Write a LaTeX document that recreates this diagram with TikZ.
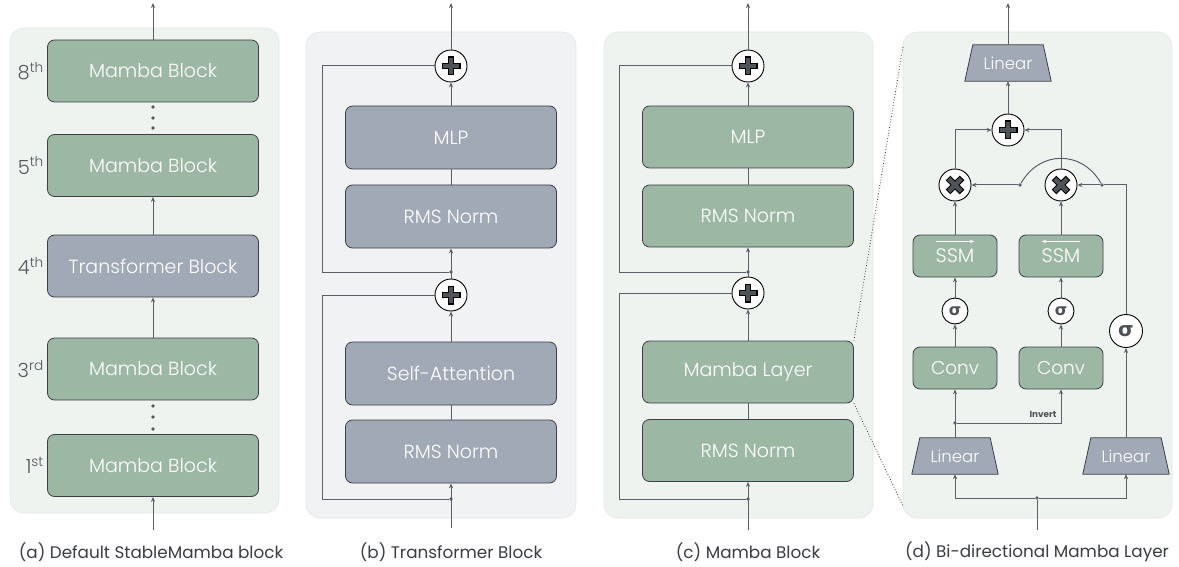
\documentclass[tikz,border=0pt]{standalone}
\usepackage{fontspec}
\setmainfont{Poppins}
\newfontfamily\lightfont{Poppins}[UprightFont=* Light]
\newfontfamily\symfont{DejaVu Sans}
\usetikzlibrary{arrows.meta,shapes.geometric,calc}

\definecolor{mgreen}{HTML}{9CB8A4}
\definecolor{tgray}{HTML}{A1A9B7}
\definecolor{bordc}{HTML}{3C4044}
\definecolor{lcol}{HTML}{5B6068}
\definecolor{greenbg}{HTML}{EFF3F0}
\definecolor{graybg}{HTML}{F1F2F4}
\definecolor{panelline}{HTML}{E2E5E3}
\definecolor{glyphc}{HTML}{4F5358}
\definecolor{captc}{HTML}{3A3D42}
\definecolor{ordc}{HTML}{54585E}

\pgfdeclarelayer{back}
\pgfdeclarelayer{mid}
\pgfsetlayers{back,mid,main}

\tikzset{
  panel/.style={draw=panelline, line width=0.6pt, rounded corners=14pt},
  blk/.style={rectangle, rounded corners=7pt, draw=bordc, line width=0.8pt,
    text=white, minimum width=211pt, minimum height=62pt, inner sep=0pt,
    font=\lightfont\fontsize{19}{22}\selectfont},
  gblk/.style={blk, fill=mgreen},
  tblk/.style={blk, fill=tgray},
  sblk/.style={gblk, minimum width=84pt, minimum height=42pt,
    font=\lightfont\fontsize{18.5}{20}\selectfont},
  ssmblk/.style={sblk, font=\lightfont\fontsize{19.5}{22}\selectfont},
  linbox/.style={rectangle, text=white, inner sep=0pt,
    minimum width=86pt, minimum height=36pt, font=\lightfont\fontsize{16.5}{18}\selectfont},
  trapline/.style={draw=bordc, line width=0.8pt, fill=tgray, line join=round},
  opc/.style={circle, draw=black, line width=0.9pt, fill=white,
    minimum size=32pt, inner sep=0pt},
  sigc/.style={opc, minimum size=26pt, text=glyphc,
    font=\symfont\bfseries\fontsize{16}{17}\selectfont},
  bigsig/.style={sigc, minimum size=33pt, font=\symfont\bfseries\fontsize{20}{21}\selectfont},
  ln/.style={draw=lcol, line width=1pt},
  ar/.style={ln, -{Stealth[length=5pt,width=4.2pt]}},
  jdot/.style={circle, fill=lcol, inner sep=0pt, minimum size=3.6pt},
  edot/.style={circle, fill=ordc, inner sep=0pt, minimum size=3.6pt},
  ordl/.style={anchor=east, text=ordc, font=\lightfont\fontsize{19.5}{22}\selectfont, inner sep=0pt},
  capt/.style={text=captc, font=\fontsize{16.8}{20}\selectfont, inner sep=0pt},
  plusglyph/.pic={
    \draw[black, line width=6.6pt] (-9.5,0) -- (9.5,0) (0,-9.5) -- (0,9.5);
    \draw[glyphc, line width=4.4pt] (-8.4,0) -- (8.4,0) (0,-8.4) -- (0,8.4);
  },
  timesglyph/.pic={
    \draw[black, line width=6.6pt] (-7,-7) -- (7,7) (-7,7) -- (7,-7);
    \draw[glyphc, line width=4.4pt] (-6.2,-6.2) -- (6.2,6.2) (-6.2,6.2) -- (6.2,-6.2);
  }
}

% trapezoid outline (narrow top, wide bottom) behind a Linear node
\newcommand\trapfill[1]{%
  \begin{pgfonlayer}{mid}
    \draw[trapline] (#1.south west) -- ($(#1.north west)+(8,0)$)
      -- ($(#1.north east)+(-8,0)$) -- (#1.south east) -- cycle;
  \end{pgfonlayer}}

\begin{document}
\begin{tikzpicture}[x=1pt,y=-1pt]
\useasboundingbox (0,0) rectangle (1179,567);

% panel backgrounds
\begin{pgfonlayer}{back}
\draw[panel, fill=greenbg] (10,28) rectangle (279,513);
\draw[panel, fill=graybg] (306,32) rectangle (576,518);
\draw[panel, fill=greenbg] (604,32) rectangle (873,518);
\draw[panel, fill=greenbg] (903,32) rectangle (1172,518);
\end{pgfonlayer}

% ---------------- (a) default stack ----------------
\node[gblk] (a8) at (153,71) {Mamba Block};
\node[gblk] (a5) at (153,165.5) {Mamba Block};
\node[tblk] (a4) at (153,266) {Transformer Block};
\node[gblk] (a3) at (153,369) {Mamba Block};
\node[gblk] (a1) at (153,465.5) {Mamba Block};
\node[ordl] (o8) at (44,71) {8\textsuperscript{th}};
\node[ordl] (o5) at (44,165.5) {5\textsuperscript{th}};
\node[ordl] (o4) at (44,266) {4\textsuperscript{th}};
\node[ordl] (o3) at (44,369) {3\textsuperscript{rd}};
\node[ordl] (o1) at (44,465.5) {1\textsuperscript{st}};
\foreach \y [count=\i] in {107,118,128} \node[edot] (ua\i) at (153,\y) {};
\foreach \y [count=\i] in {406,417,429} \node[edot] (la\i) at (153,\y) {};
\coordinate (aout) at (153,3);
\coordinate (ain) at (153,530);
\draw[ar] (a8.north) -- (aout);
\draw[ar] (a4.north) -- (a5.south);
\draw[ar] (a3.north) -- (a4.south);
\draw[ar] (ain) -- (a1.south);
\node[capt] (capa) at (151,552) {(a) Default StableMamba block};

% ---------------- (b) transformer block ----------------
\node[opc] (bplus1) at (451,66) {};
\pic at (bplus1.center) {plusglyph};
\node[tblk, minimum height=63pt] (bmlp) at (451,137.5) {MLP};
\node[tblk, minimum height=63pt] (brms1) at (451,216.5) {RMS Norm};
\node[opc] (bplus2) at (451,295) {};
\pic at (bplus2.center) {plusglyph};
\node[tblk, minimum height=63pt] (bsa) at (451,373.5) {Self-Attention};
\node[tblk, minimum height=63pt] (brms2) at (451,451.5) {RMS Norm};
\node[jdot] (bj1) at (451,272) {};
\node[jdot] (bj2) at (451,499) {};
\coordinate (bskip) at (322,0);
\coordinate (bout) at (451,3);
\coordinate (bin) at (451,528);
\draw[ar] (bplus1.north) -- (bout);
\draw[ar] (bmlp.north) -- (bplus1.south);
\draw[ln] (brms1.north) -- (bmlp.south);
\draw[ar] (bplus2.north) -- (brms1.south);
\draw[ln] (bj1) -- (bj1 -| bskip) |- (bplus1.west);
\draw[ar] (bsa.north) -- (bplus2.south);
\draw[ln] (brms2.north) -- (bsa.south);
\draw[ar] (bin) -- (brms2.south);
\draw[ln] (bj2) -- (bj2 -| bskip) |- (bplus2.west);
\node[capt] (capb) at (451,552) {(b) Transformer Block};

% ---------------- (c) mamba block ----------------
\node[opc] (cplus1) at (748,66) {};
\pic at (cplus1.center) {plusglyph};
\node[gblk] (cmlp) at (748,137) {MLP};
\node[gblk] (crms1) at (748,216) {RMS Norm};
\node[opc] (cplus2) at (748,293) {};
\pic at (cplus2.center) {plusglyph};
\node[gblk] (cml) at (748,372) {Mamba Layer};
\node[gblk] (crms2) at (748,450.5) {RMS Norm};
\node[jdot] (cj1) at (748,272) {};
\node[jdot] (cj2) at (748,499) {};
\coordinate (cskip) at (619,0);
\coordinate (cout) at (748,3);
\coordinate (cin) at (748,530);
\draw[ar] (cplus1.north) -- (cout);
\draw[ar] (cmlp.north) -- (cplus1.south);
\draw[ln] (crms1.north) -- (cmlp.south);
\draw[ar] (cplus2.north) -- (crms1.south);
\draw[ln] (cj1) -- (cj1 -| cskip) |- (cplus1.west);
\draw[ar] (cml.north) -- (cplus2.south);
\draw[ln] (crms2.north) -- (cml.south);
\draw[ar] (cin) -- (crms2.south);
\draw[ln] (cj2) -- (cj2 -| cskip) |- (cplus2.west);
\node[capt] (capc) at (748,552) {(c) Mamba Block};

% ---------------- (d) bi-directional mamba layer ----------------
\node[linbox] (dlin) at (1008,63) {Linear};
\trapfill{dlin}
\node[opc] (dplus) at (1008,130) {};
\pic at (dplus.center) {plusglyph};
\node[opc] (dxl) at (955,185) {};
\pic at (dxl.center) {timesglyph};
\node[opc] (dxr) at (1061,185) {};
\pic at (dxr.center) {timesglyph};
\node[ssmblk] (dssml) at (955,256) {\raisebox{-6.5pt}{SSM}};
\node[ssmblk] (dssmr) at (1061,256) {\raisebox{-6.5pt}{SSM}};
\draw[white, line width=0.9pt, -{Stealth[length=4pt,width=3.6pt]}]
  ($(dssml.center)+(-19,-14.5)$) -- ($(dssml.center)+(19,-14.5)$);
\draw[white, line width=0.9pt, -{Stealth[length=4pt,width=3.6pt]}]
  ($(dssmr.center)+(19,-14.5)$) -- ($(dssmr.center)+(-19,-14.5)$);
\node[sigc] (dsigl) at (955,311) {σ};
\node[sigc] (dsigr) at (1061,311) {σ};
\node[bigsig] (dsigb) at (1126,331) {σ};
\node[sblk] (dconvl) at (955,368) {Conv};
\node[sblk] (dconvr) at (1061,368) {Conv};
\node[linbox] (dlinl) at (955,456) {Linear};
\trapfill{dlinl}
\node[linbox] (dlinr) at (1126,456) {Linear};
\trapfill{dlinr}
\node[jdot] (dji) at (955,423) {};
\node[jdot] (djb) at (1037,498) {};
\node[jdot] (dgj) at (1102,185) {};
\node[jdot] (dgk) at (1020,185) {};
\node[text=glyphc, font=\bfseries\fontsize{8.8}{10}\selectfont, inner sep=0pt]
  (dinv) at (1043,414) {Invert};
\coordinate (dout) at (1008,3);
\coordinate (din) at (1037,530);
\draw[ar] (dlin.north) -- (dout);
\draw[ar] (dplus.north) -- (dlin.south);
\draw[ar] (dxl.north) |- (dplus.west);
\draw[ar] (dxr.north) |- (dplus.east);
\draw[ln] (dsigb.north) |- (dgj);
\draw[ar] (dgj) -- (dxr.east);
\draw[ln] (dgj) .. controls (1082,150) and (1040,150) .. (dgk);
\draw[ar] (dgk) -- (dxl.east);
\draw[ar] (dssml.north) -- (dxl.south);
\draw[ar] (dssmr.north) -- (dxr.south);
\draw[ar] (dsigl.north) -- (dssml.south);
\draw[ar] (dsigr.north) -- (dssmr.south);
\draw[ar] (dconvl.north) -- (dsigl.south);
\draw[ar] (dconvr.north) -- (dsigr.south);
\draw[ar] (dlinl.north) -- (dconvl.south);
\draw[ar] (dji) -| (dconvr.south);
\draw[ar] (dlinr.north) -- (dsigb.south);
\draw[ln] (din) -- (djb);
\draw[ar] (djb) -| (dlinl.south);
\draw[ar] (djb) -| (dlinr.south);
\node[capt] (capd) at (1037,552) {(d) Bi-directional Mamba Layer};

% zoom guides from the Mamba Layer to panel (d)
\coordinate (dz1) at (903,47);
\coordinate (dz2) at (903,506);
\draw[black!80, dotted, line width=0.8pt] (cml.north east) -- (dz1);
\draw[black!80, dotted, line width=0.8pt] (cml.south east) -- (dz2);
\end{tikzpicture}
\end{document}
